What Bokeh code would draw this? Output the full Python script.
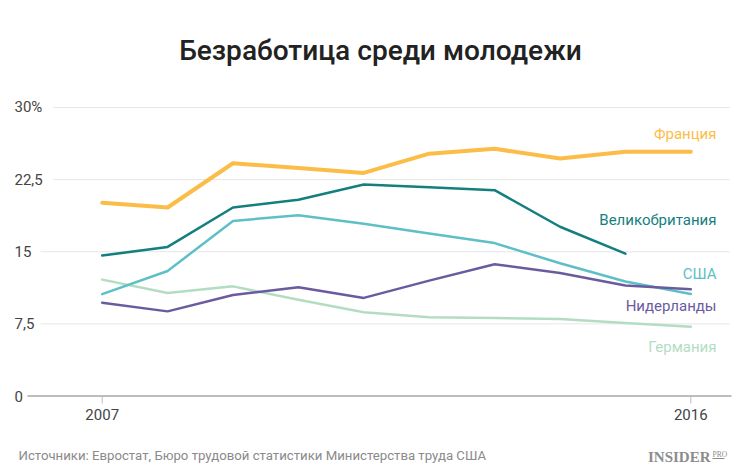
from bokeh.plotting import figure
from bokeh.models import Range1d, ColumnDataSource
from bokeh.core.properties import value
from bokeh.embed import file_html
from bokeh.resources import INLINE

# ---- data ----
years = [2007, 2008, 2009, 2010, 2011, 2012, 2013, 2014, 2015, 2016]
france = [20.1, 19.6, 24.2, 23.7, 23.2, 25.2, 25.7, 24.7, 25.4, 25.4]
uk = [14.6, 15.5, 19.6, 20.4, 22.0, 21.7, 21.4, 17.6, 14.8]
usa = [10.6, 13.0, 18.2, 18.8, 17.9, 16.9, 15.9, 13.8, 11.9, 10.6]
netherlands = [9.7, 8.8, 10.5, 11.3, 10.2, 12.0, 13.7, 12.8, 11.5, 11.1]
germany = [12.1, 10.7, 11.4, 10.0, 8.7, 8.2, 8.1, 8.0, 7.6, 7.2]

series_names = ["Франция", "Великобритания", "США", "Нидерланды", "Германия"]
y_ticks = [0, 7.5, 15, 22.5, 30]
y_tick_labels = ["0", "7,5", "15", "22,5", "30%"]
x_ticks = [2007, 2016]
x_tick_labels = ["2007", "2016"]

title = "Безработица среди молодежи"
source_text = "Источники: Евростат, Бюро трудовой статистики Министерства труда США"

# ---- layout (pixel geometry of the page) ----
OFF = 0
W, H = 745, 470
kx = 65.4      # px per year
ky = 9.617     # px per percentage point
x_px_2007 = 101.7 - OFF
y_px_0 = 395.5 - OFF
x0 = 2007 - x_px_2007 / kx
x1 = x0 + W / kx
y_top = 0 + y_px_0 / ky
y_bot = y_top - H / ky


def X(px):  # page px -> data x
    return x0 + (px - OFF) / kx


def Y(py):  # page px -> data y
    return y_top - (py - OFF) / ky


p = figure(width=W, height=H, output_backend="svg", toolbar_location=None,
           x_range=Range1d(x0, x1), y_range=Range1d(y_bot, y_top),
           min_border=0, min_border_left=0, min_border_right=0,
           min_border_top=0, min_border_bottom=0)
p.axis.visible = False
p.grid.visible = False
p.outline_line_color = None
p.background_fill_color = "white"
p.border_fill_color = "white"

FONT = value("Roboto")

# gridlines (start just after each label)
grid_start_px = [27, 40, 40, 53, 53]
grid_end_px = 729
for t, sx in zip(y_ticks, grid_start_px):
    if t == 0:
        continue
    p.segment(x0=[X(sx)], y0=[t], x1=[X(grid_end_px)], y1=[t],
              line_color="#e6e6e6", line_width=1)
# baseline
p.segment(x0=[X(27)], y0=[0], x1=[X(731)], y1=[0], line_color="#bdbdbd", line_width=2)
# x ticks
for t in x_ticks:
    p.segment(x0=[t], y0=[0], x1=[t], y1=[Y(403)], line_color="#bdbdbd", line_width=1)

# y tick labels
p.text(x=[X(14)] * len(y_ticks), y=y_ticks, text=y_tick_labels,
       text_font=FONT, text_font_size="15px", text_color="#444444",
       text_align="left", text_baseline="middle")
# x tick labels
p.text(x=x_ticks, y=[Y(414)] * len(x_ticks), text=x_tick_labels,
       text_font=FONT, text_font_size="15px", text_color="#444444",
       text_align="center", text_baseline="middle")

# series
colors = ["#fbbd47", "#157f80", "#5ec0c6", "#6a5b9f", "#b3ddc3"]
widths = [4, 2.5, 2.5, 2.5, 2.5]
all_series = [france, uk, usa, netherlands, germany]
order = [4, 2, 3, 1, 0]
for i in order:
    vals = all_series[i]
    src = ColumnDataSource(dict(x=years[:len(vals)], y=vals))
    p.line("x", "y", source=src, line_color=colors[i], line_width=widths[i],
           line_join="round", line_cap="round")

label_y_px = [133, 219, 273, 305, 346]
for name, c, ly in zip(series_names, colors, label_y_px):
    p.text(x=[X(716)], y=[Y(ly)], text=[name], text_font=FONT,
           text_font_size="15px", text_color=c, text_align="right",
           text_baseline="middle")

# title
p.text(x=[X(380)], y=[Y(50)], text=[title], text_font=value("Roboto Medium"),
       text_font_size="28px", text_color="#222222",
       text_align="center", text_baseline="middle")

# source
p.text(x=[X(18)], y=[Y(455)], text=[source_text], text_font=FONT,
       text_font_size="13.2px", text_color="#8a8a8a", text_align="left",
       text_baseline="middle")

# logo
p.text(x=[X(710)], y=[Y(456)], text=["INSIDER"], text_font=value("Liberation Serif"),
       text_font_size="15px", text_font_style="bold", text_color="#8c8c8c",
       text_align="right", text_baseline="middle")
p.text(x=[X(712)], y=[Y(454)], text=["PRO"], text_font=value("Liberation Serif"),
       text_font_size="7.5px", text_color="#8c8c8c", text_align="left",
       text_baseline="middle")
p.segment(x0=[X(712)], y0=[Y(458)], x1=[X(724)], y1=[Y(458)],
          line_color="#8c8c8c", line_width=1)

open("out.html", "w").write(file_html(p, INLINE))
